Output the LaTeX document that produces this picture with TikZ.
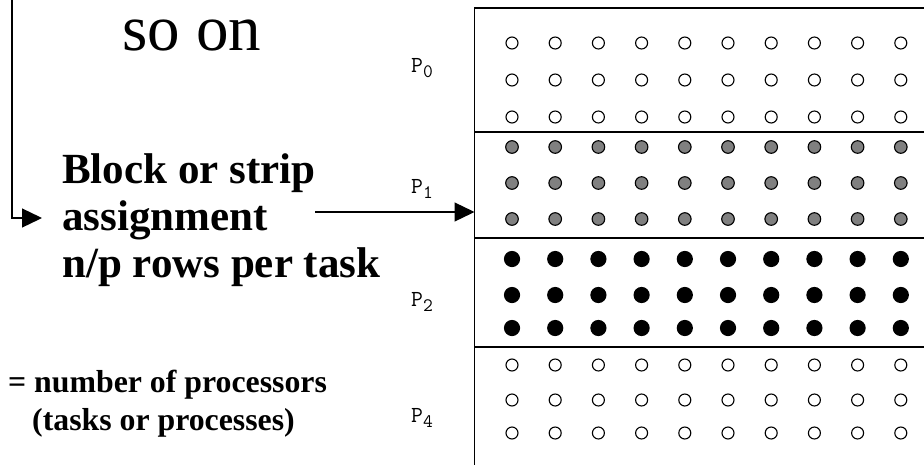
\documentclass[tikz,border=0pt]{standalone}
\usepackage{fontspec}
\setmainfont{Liberation Serif}
\usetikzlibrary{arrows.meta}

% processor label: P with a lowered index
\newcommand{\proclab}[1]{\ttfamily\fontsize{23}{23}\selectfont P\raisebox{-5pt}{\fontsize{19}{19}\selectfont #1}}

\tikzset{
  wdot/.style={draw=black, fill=white, line width=1.1pt, radius=6},
  gdot/.style={draw=black, fill=gray, line width=1.1pt, radius=6.3},
  bdot/.style={fill=black, radius=8.1},
  sepline/.style={line width=2.4pt},
  plab/.style={anchor=base west, inner sep=0},
  bigarrow/.style={-{Triangle[length=20pt,width=19pt]}, line width=1.3pt}
}

\begin{document}
\begin{tikzpicture}[x=1pt, y=-1pt]
  \useasboundingbox (0,0) rectangle (924,464);

  % matrix outline and strip borders
  \coordinate (boxnw) at (474.5,8);
  \draw[line width=1.3pt] (930,8) -- (boxnw) -- (474.5,470);
  \foreach \y in {132,238,347}
    \draw[sepline] (474.5,\y) -- (930,\y);

  % grid points, one row per line
  \foreach \y/\s in {43/wdot,80/wdot,117/wdot,
                     147/gdot,183/gdot,219/gdot,
                     259/bdot,295/bdot,328/bdot,
                     365/wdot,400/wdot,433/wdot}
    \foreach \i in {0,...,9}
      \path[\s] (512+43.2*\i,\y) circle;

  % processor labels
  \node[plab] (p0) at (411,72)  {\proclab{0}};
  \node[plab] (p1) at (411,193) {\proclab{1}};
  \node[plab] (p2) at (411,306) {\proclab{2}};
  \node[plab] (p4) at (411,422) {\proclab{4}};

  % text on the left (base = last line)
  \node[anchor=base west, inner sep=0, font=\fontsize{65}{65}\selectfont] (soon) at (122,50) {so on};
  \node[anchor=base west, inner sep=0, align=left, font=\bfseries\fontsize{43}{47}\selectfont] (blk) at (62,277)
    {Block or strip\\assignment\\n/p rows per task};
  \node[anchor=base west, inner sep=0, align=left, font=\bfseries\fontsize{31.8}{38}\selectfont] (nproc) at (8,430)
    {= number of processors\\\hspace*{24pt}(tasks or processes)};

  % arrows
  \coordinate (src) at (315,212);
  \draw[bigarrow] (src) -- (src -| boxnw);
  \coordinate (brtop) at (12,-4);
  \coordinate (brtip) at (42,218);
  \draw[bigarrow] (brtop) |- (brtip);
\end{tikzpicture}
\end{document}
